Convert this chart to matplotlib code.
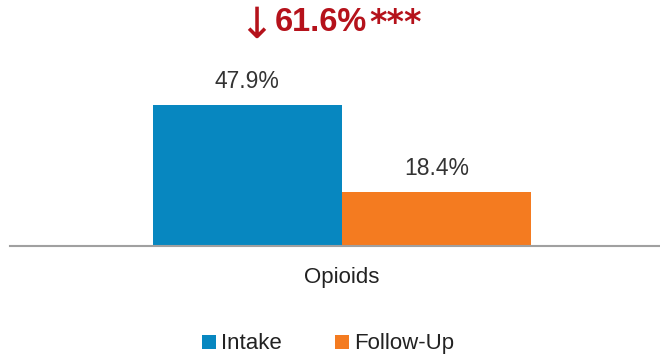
import matplotlib.pyplot as plt
import numpy as np

categories = ['Opioids']
series = ['Intake', 'Follow-Up']
values = [47.9, 18.4]
colors = ['#0787c0', '#f47b20']
change_arrow = '\u2193'
change_value = '61.6%'
change_stars = '***'

plt.rcParams['font.family'] = ['Liberation Sans', 'DejaVu Sans']
red = '#b5121b'

fig = plt.figure(figsize=(6.6, 3.59), dpi=100)
ax = fig.add_axes([0.015, 0.3148, 0.985, 0.493])

x = np.arange(len(categories))
width = 0.291
for i, (name, val, c) in enumerate(zip(series, values, colors)):
    pos = x + (i - 0.5) * width
    ax.bar(pos, [val], width=width, color=c, label=name)
    ax.annotate(f'{val:.1f}%', (pos[0], val), xytext=(0, 12),
                textcoords='offset points', ha='center', va='baseline',
                fontsize=16.5, color='#333333')

shift = 0.0108
ax.set_xlim(-0.5 - shift, 0.5 - shift)
ax.set_ylim(0, 60)
ax.set_xticks(x)
ax.set_xticklabels(categories, fontsize=16, color='#222222')
ax.tick_params(axis='x', length=0, pad=15)
ax.set_yticks([])
for s in ['top', 'right', 'left']:
    ax.spines[s].set_visible(False)
ax.spines['bottom'].set_color('#a0a0a0')
ax.spines['bottom'].set_linewidth(1.5)

# headline: arrow + percent change + significance stars
fig.text(0.415, 0.927, change_arrow, ha='right', va='center',
         fontsize=31, color=red, family='DejaVu Sans')
t_val = fig.text(0.416, 0.937, change_value, ha='left', va='center',
                 fontsize=23.5, fontweight='bold', color=red)
fig.canvas.draw()
ax.annotate(change_stars, xy=(1, 1), xycoords=t_val, xytext=(2, 0),
            textcoords='offset points', ha='left', va='top',
            fontsize=24, fontweight='bold', color=red, family='DejaVu Sans')

fig.legend(loc='center', bbox_to_anchor=(0.4977, 0.042), ncol=2, frameon=False,
           fontsize=16, handlelength=0.6, handleheight=0.6,
           handletextpad=0.25, columnspacing=2.4, labelcolor='#222222')

fig.savefig('out.png', dpi=100)
